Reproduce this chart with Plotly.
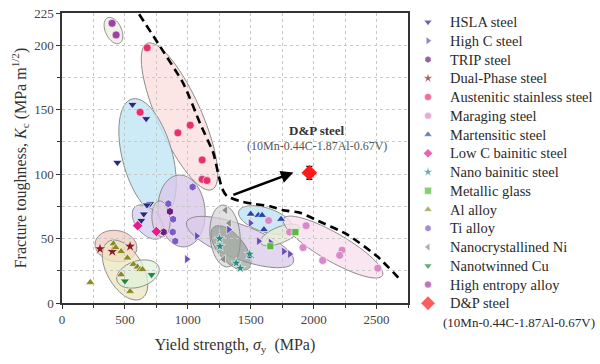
import numpy as np
import plotly.graph_objects as go

# ---------------- data ----------------
hsla_x = [560, 669, 440, 700, 675, 650, 630]
hsla_y = [154, 143, 109, 77, 76, 69, 64]
highc_x = [992, 1070, 1325, 1497, 1563, 1656, 1762, 1810]
highc_y = [34, 52, 57, 62, 48, 47, 40, 38]
trip_x = [858, 808]
trip_y = [71, 55]
dp_x = [302, 400, 541]
dp_y = [42, 40, 44]
aus_x = [677, 621, 921, 1019, 1114, 1114, 1152]
aus_y = [198, 148, 132, 138, 111, 96, 95]
mar_x = [1642, 1809, 1940, 1916, 2072, 2226, 2207, 2510]
mar_y = [64, 55, 60, 43, 33, 41, 37, 27]
mart_x = [1500, 1560, 1590, 1741, 1605, 1495]
mart_y = [69, 68, 68, 65, 57, 36]
lowc_x = [602, 750]
lowc_y = [60, 55.5]
nanob_x = [1252, 1255, 1385, 1417, 1491]
nanob_y = [50, 44, 31, 27, 38]
mg_x = [1656, 1855]
mg_y = [44, 55]
al_x = [225, 409, 427, 470, 520, 568, 600, 621, 640, 470, 541]
al_y = [16, 46, 43, 40, 35, 30, 28, 26, 26, 22, 9]
ti_x = [845, 883, 880, 900, 1038]
ti_y = [77, 65, 55, 48, 90]
ni_x = [1300, 1330, 1284]
ni_y = [72, 62, 34]
cu_x = [500, 712]
cu_y = [17, 22]
hea_x = [398, 430]
hea_y = [217, 208]
dnp_x = [1966]
dnp_y = [101]
dnp_err = [5]

boundary_x = [613, 780, 966, 1099, 1204, 1240, 1272, 1310, 1415, 1521, 1653, 1759, 1892, 2030, 2269, 2507, 2690]
boundary_y = [224, 199, 170, 139, 116, 101, 89, 83, 79, 77, 75, 72, 70, 64, 53, 36, 18]

x_ticks = [0, 500, 1000, 1500, 2000, 2500]
y_ticks = [0, 50, 100, 150, 200, 225]

# ---------------- region ellipses (center in data, semi-axes in px, angle deg on screen) -------------
regions = [
    (409, 211.4, 14, 8, 65, "rgba(232,240,222,0.8)"),
    (934, 144.7, 80, 22, 66, "rgba(250,222,220,0.75)"),
    (680, 113.3, 60, 25, 75, "rgba(196,230,246,0.85)"),
    (950, 71.4, 36, 23.5, 85, "rgba(218,200,234,0.8)"),
    (1415, 47.3, 57, 17, 20.7, "rgba(218,200,234,0.75)"),
    (1296, 52, 31, 15, 85, "rgba(212,212,212,0.7)"),
    (1343, 42.7, 27, 13, 50, "rgba(135,150,133,0.6)"),
    (1617, 64.4, 28, 12, 18, "rgba(196,230,246,0.9)"),
    (1733, 52.8, 21, 8, -22, "rgba(228,236,210,0.85)"),
    (2154, 43.4, 57, 14, 30, "rgba(249,224,238,0.8)"),
    (429, 44.2, 21, 15.5, 10, "rgba(243,205,192,0.8)"),
    (501, 25.6, 33, 18, 60, "rgba(236,230,190,0.75)"),
    (604, 22.5, 22, 13, -18, "rgba(226,242,220,0.75)"),
    (684, 62.8, 20, 12, 50, "rgba(212,206,240,0.8)"),
    (787, 65.2, 18, 9, 85, "rgba(225,204,232,0.75)"),
]

X_RANGE = [0, 2750]
Y_RANGE = [0, 225]
W, H = 600, 364
PL, PR, PT, PB = 62, 408, 13, 303   # plot area in pixels
pw = PR - PL
ph = PB - PT
sx = pw / (X_RANGE[1] - X_RANGE[0])
sy = ph / (Y_RANGE[1] - Y_RANGE[0])
SERIF = "Liberation Serif"


def ellipse_path(cx, cy, a, b, ang):
    t = np.linspace(0, 2 * np.pi, 72)
    th = np.deg2rad(ang)
    px = a * np.cos(t) * np.cos(th) - b * np.sin(t) * np.sin(th)
    py = a * np.cos(t) * np.sin(th) + b * np.sin(t) * np.cos(th)
    xs = cx + px / sx
    ys = cy - py / sy
    pts = ["%.2f,%.2f" % (x, y) for x, y in zip(xs, ys)]
    return "M " + " L ".join(pts) + " Z"


shapes = []
for cx, cy, a, b, ang, fill in regions:
    shapes.append(dict(type="path", path=ellipse_path(cx, cy, a, b, ang), xref="x", yref="y",
                       fillcolor=fill, line=dict(color="#8c8c8c", width=1), layer="below"))

fig = go.Figure()

# dashed boundary
fig.add_trace(go.Scatter(x=boundary_x, y=boundary_y, mode="lines", showlegend=False,
                         line=dict(color="black", width=2.6, dash="8px,5px", shape="spline", smoothing=0.6),
                         hoverinfo="skip"))

series = [
    ("HSLA steel", hsla_x, hsla_y, "triangle-down", "#26297f", 8),
    ("High C steel", highc_x, highc_y, "triangle-right", "#6a4cbc", 8),
    ("TRIP steel", trip_x, trip_y, "hexagon", "#6a1f78", 8),
    ("Dual-Phase steel", dp_x, dp_y, "star", "#8b1a22", 9),
    ("Austenitic stainless steel", aus_x, aus_y, "circle", "#e8306c", 8),
    ("Maraging steel", mar_x, mar_y, "circle", "#d98ac6", 8),
    ("Martensitic steel", mart_x, mart_y, "triangle-up", "#2843a6", 8),
    ("Low C bainitic steel", lowc_x, lowc_y, "diamond", "#e41d8a", 8),
    ("Nano bainitic steel", nanob_x, nanob_y, "star", "#2a8c80", 8),
    ("Metallic glass", mg_x, mg_y, "square", "#55bb3c", 7),
    ("Al alloy", al_x, al_y, "triangle-up", "#8a8a22", 8),
    ("Ti alloy", ti_x, ti_y, "hexagon", "#7a5cc4", 8),
    ("Nanocrystallined Ni", ni_x, ni_y, "triangle-left", "#8c8c8c", 8),
    ("Nanotwinned Cu", cu_x, cu_y, "triangle-down", "#1a8a3a", 8),
    ("High entropy alloy", hea_x, hea_y, "circle", "#a33ca3", 8),
]
for name, xs, ys, sym, col, sz in series:
    fig.add_trace(go.Scatter(x=xs, y=ys, mode="markers", name=name, showlegend=False,
                             marker=dict(symbol=sym, color=col, size=sz,
                                         line=dict(color="white", width=0.6))))

fig.add_trace(go.Scatter(x=dnp_x, y=dnp_y, mode="markers", name="D&P steel", showlegend=False,
                         marker=dict(symbol="diamond", color="#ff1a1a", size=12),
                         error_y=dict(type="data", array=dnp_err, color="black", thickness=1.5, width=3)))

# ---------------- custom legend (on a pixel-scaled side panel) ----------------
leg_names = [s[0] for s in series] + ["D&P steel"]
leg_syms = [s[3] for s in series] + ["diamond"]
leg_cols = [s[4] for s in series] + ["#ff1a1a"]
leg_sizes = [7] * len(series) + [11]
LEG_Y0, LEG_DY = 22, 18.75
leg_rows = [LEG_Y0 + i * LEG_DY for i in range(len(leg_names))]
fig.add_trace(go.Scatter(x=[428] * len(leg_names), y=leg_rows, mode="markers", xaxis="x2", yaxis="y2",
                         showlegend=False, hoverinfo="skip",
                         marker=dict(symbol=leg_syms, color=leg_cols, size=leg_sizes,
                                     line=dict(color="white", width=0.5))))

annotations = [
    dict(x=1839, y=101.3, ax=1350, ay=83.5, xref="x", yref="y", axref="x", ayref="y",
         text="", showarrow=True, arrowhead=2, arrowsize=1, arrowwidth=2.5, arrowcolor="black"),
    dict(x=2030, y=134, xref="x", yref="y", text="<b>D&P steel</b>", showarrow=False,
         font=dict(family=SERIF, size=13, color="#333")),
    dict(x=2030, y=121.5, xref="x", yref="y", text="(10Mn-0.44C-1.87Al-0.67V)", showarrow=False,
         font=dict(family=SERIF, size=12, color="#555")),
]
for name, yy in zip(leg_names, leg_rows):
    annotations.append(dict(x=448, y=yy, xref="x2", yref="y2", text=name, showarrow=False,
                            xanchor="left", yanchor="middle",
                            font=dict(family=SERIF, size=14.5, color="#2a2a2a")))
annotations.append(dict(x=441, y=leg_rows[-1] + LEG_DY, xref="x2", yref="y2",
                        text="(10Mn-0.44C-1.87Al-0.67V)", showarrow=False,
                        xanchor="left", yanchor="middle",
                        font=dict(family=SERIF, size=13, color="#2a2a2a")))

axis_common = dict(showline=True, linecolor="#333", linewidth=1.5, mirror=True,
                   ticks="outside", ticklen=4, tickcolor="#333", zeroline=False, automargin=False,
                   showgrid=True, gridcolor="#c8c8c8", griddash="dot", gridwidth=1,
                   tickfont=dict(family=SERIF, size=13, color="#444"))

fig.update_layout(
    width=W, height=H, margin=dict(l=0, r=0, t=0, b=0),
    paper_bgcolor="white", plot_bgcolor="white",
    shapes=shapes, annotations=annotations, showlegend=False,
    font=dict(family=SERIF, color="#333"),
    xaxis=dict(domain=[PL / W, PR / W], anchor="y", range=X_RANGE, tickvals=x_ticks,
               ticktext=[str(v) for v in x_ticks],
               minor=dict(tickmode="linear", tick0=0, dtick=250, ticklen=3, tickcolor="#333",
                          showgrid=True, gridcolor="#c8c8c8", griddash="dot"),
               title=dict(text="Yield strength, <i>σ</i><sub>y</sub>  (MPa)", standoff=12,
                          font=dict(family=SERIF, size=16, color="#333")),
               **axis_common),
    yaxis=dict(domain=[(H - PB) / H, (H - PT) / H], anchor="x", range=Y_RANGE, tickvals=y_ticks,
               ticktext=[str(v) for v in y_ticks],
               minor=dict(tickmode="linear", tick0=0, dtick=25, ticklen=3, tickcolor="#333",
                          showgrid=True, gridcolor="#c8c8c8", griddash="dot"),
               title=dict(text="Fracture toughness, <i>K</i><sub>c</sub> (MPa m<sup>1/2</sup>)", standoff=4,
                          font=dict(family=SERIF, size=16, color="#333")),
               **axis_common),
    xaxis2=dict(domain=[PR / W, 1], anchor="y2", range=[PR, W], visible=False, fixedrange=True),
    yaxis2=dict(domain=[0, 1], anchor="x2", range=[H, 0], visible=False, fixedrange=True),
)

fig.write_html("out.html", config={"displayModeBar": False},
               post_script="document.body.style.margin='0';document.body.style.overflow='hidden';")
